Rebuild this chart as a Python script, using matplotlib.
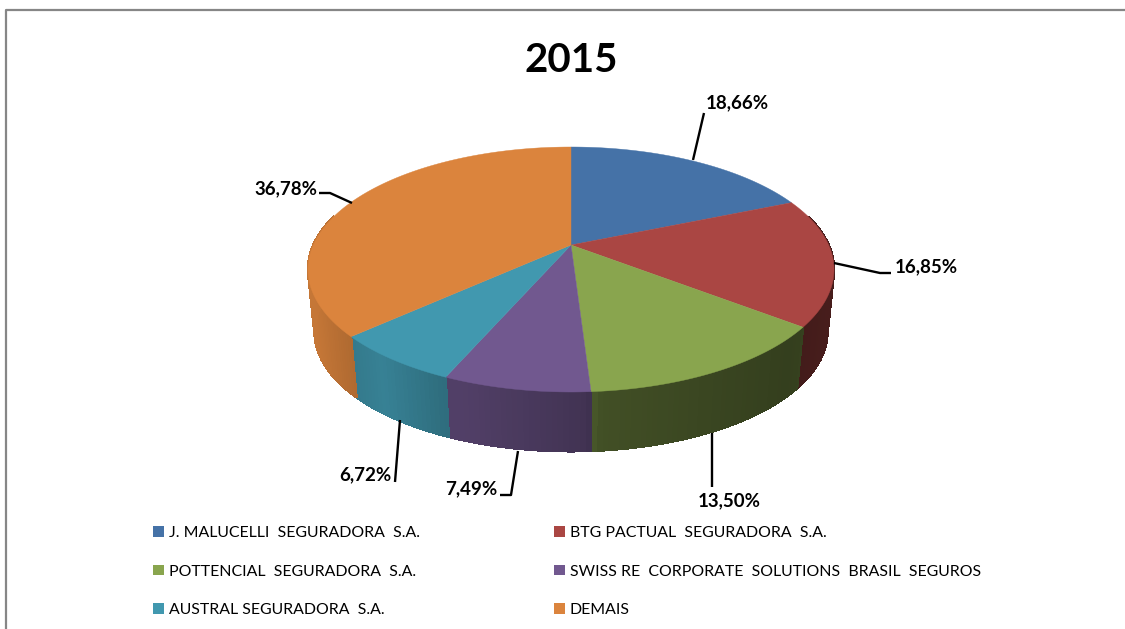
import matplotlib
matplotlib.use("Agg")
import matplotlib.pyplot as plt
import numpy as np
from matplotlib.patches import Patch

plt.rcParams["font.family"] = ["Lato", "DejaVu Sans"]

categories = [
    "J. MALUCELLI  SEGURADORA  S.A.",
    "BTG PACTUAL  SEGURADORA  S.A.",
    "POTTENCIAL  SEGURADORA  S.A.",
    "SWISS RE  CORPORATE  SOLUTIONS  BRASIL  SEGUROS",
    "AUSTRAL SEGURADORA  S.A.",
    "DEMAIS",
]
values = [18.66, 16.85, 13.50, 7.49, 6.72, 36.78]
colors = ["#4572a7", "#aa4643", "#89a54e", "#71588f", "#4198af", "#db843d"]

# leader lines in pixel coords, last point sits next to the label
leaders = [
    [(693, 160), (704, 113)],
    [(834, 263), (880, 273), (891, 273)],
    [(712, 433), (712, 487)],
    [(518, 451), (511, 495), (500, 495)],
    [(400, 420), (395, 482)],
    [(352, 203), (330, 193), (319, 193)],
]
label_pos = [(737, 103, "center"), (926, 267, "center"), (729, 501, "center"),
             (497, 489, "right"), (391, 475, "right"), (317, 189, "right")]

# perspective of the disc
CX, CY = 571, 245
A, B, K = 257.7, 117.6, 0.2
DEPTH, SHRINK = 63.0, 0.975


def project(theta, bottom=False):
    u, v = np.sin(theta), np.cos(theta)
    den = 1 + K * v
    s = SHRINK if bottom else 1.0
    d = DEPTH if bottom else 0.0
    return CX + s * A * u / den, CY + d - s * B * v / den


def side_shade(x):
    return np.interp(x, [310, 350, 380, 440, 460, 585, 600, 790, 830],
                     [0.90, 0.80, 0.85, 0.72, 0.72, 0.58, 0.48, 0.38, 0.42])


fig = plt.figure(figsize=(11.25, 6.29), dpi=100)
ax = fig.add_axes([0, 0, 1, 1])
ax.set_xlim(0, 1125)
ax.set_ylim(629, 0)
ax.axis("off")

# chart frame
ax.plot([6, 6, 1125], [629, 9.5, 9.5], color="#868686", lw=1.6, solid_capstyle="butt")

edges = np.radians(np.cumsum([0] + values) / sum(values) * 360)

# side wall first, the top covers what is behind
for i, col in enumerate(colors):
    th = np.linspace(edges[i], edges[i + 1], max(int(np.degrees(edges[i + 1] - edges[i])), 2) + 1)
    th = th[(th > np.radians(75)) & (th < np.radians(285))]
    if len(th) < 2:
        continue
    rgb = np.array(matplotlib.colors.to_rgb(col))
    for t0, t1 in zip(th[:-1], th[1:]):
        x0, y0 = project(t0)
        x1, y1 = project(t1)
        x2, y2 = project(t1, True)
        x3, y3 = project(t0, True)
        shade = side_shade((x0 + x1) / 2)
        ax.fill([x0, x1, x2, x3], [y0, y1, y2, y3], facecolor=rgb * shade,
                edgecolor=rgb * shade, lw=1.0, antialiased=False)

# top of the pie
for i, col in enumerate(colors):
    th = np.linspace(edges[i], edges[i + 1], 200)
    xs, ys = project(th)
    ax.fill(np.r_[CX, xs], np.r_[CY, ys], color=col, lw=0.3)

for pts, val, (lx, ly, ha) in zip(leaders, values, label_pos):
    xs, ys = zip(*pts)
    ax.plot(xs, ys, color="black", lw=1.7, solid_capstyle="butt")
    ax.text(lx, ly, f"{val:.2f}%".replace(".", ","), ha=ha, va="center",
            fontsize=13.5, fontweight="bold", color="black")

ax.text(571, 60, "2015", ha="center", va="center", fontsize=29, fontweight="bold")

# legend fills by column, the reference reads across the rows
order = [0, 2, 4, 1, 3, 5]
handles = [Patch(facecolor=colors[i], edgecolor="none") for i in order]
labels = [categories[i] for i in order]
ax.legend(handles, labels, ncol=2, frameon=False, loc="upper left",
          bbox_to_anchor=(153 / 1125, 1 - 526 / 629), fontsize=11.4,
          handlelength=0.68, handleheight=0.68, handletextpad=0.3,
          labelspacing=1.55, columnspacing=8.5, borderpad=0, borderaxespad=0)

fig.savefig("out.png", dpi=100)
